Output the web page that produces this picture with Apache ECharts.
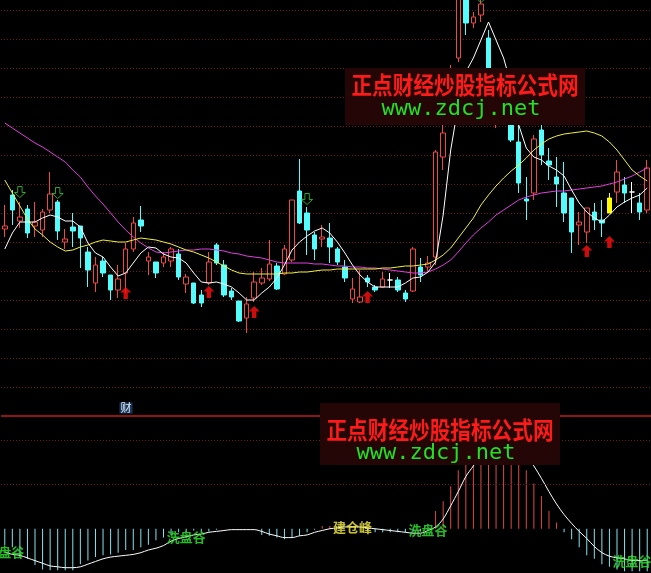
<!DOCTYPE html>
<html><head><meta charset="utf-8">
<script src="https://cdn.jsdelivr.net/npm/echarts@6/dist/echarts.min.js"></script>
<style>html,body{margin:0;padding:0;background:#000;}#c{width:651px;height:573px;}</style>
</head><body><div id="c"></div>
<script>
// ---- data (price units are arbitrary) ----
const categories = Array.from({length: 86}, (_, i) => 'D' + (i + 1));
const opens  = [187,221,195,207,190,186,206,214,174,189,190,164,133,155,141,126,143,167,196,155,154,153,155,162,132,133,121,133,171,151,125,115,98,118,133,137,150,142,156,225,203,181,177,178,167,149,117,114,138,129,129,136,136,123,125,149,149,159,259,294,358,426,393,401,378,306,331,301,274,217,223,286,255,239,223,218,191,184,204,196,203,224,231,224,213,206];
const closes = [190,206,199,183,194,204,222,185,177,185,178,146,151,143,126,137,167,193,190,159,143,159,167,139,139,113,113,154,153,121,119,95,112,134,138,152,127,167,216,193,186,167,179,169,154,138,127,119,134,126,137,136,126,117,167,141,153,264,283,346,431,393,399,412,326,331,301,276,233,215,277,261,251,232,203,184,194,208,196,193,218,244,223,224,204,248];
const lows   = [179,191,188,178,179,179,203,176,167,169,148,129,124,139,116,118,123,164,184,141,138,149,149,136,123,112,109,131,151,119,116,94,83,114,131,135,126,141,154,192,161,156,169,153,151,134,113,113,129,124,128,128,124,114,124,134,145,151,246,292,354,381,388,394,321,288,296,274,223,196,216,251,236,209,194,163,171,173,186,179,203,213,213,203,196,203];
const highs  = [211,226,214,211,214,207,244,216,187,203,190,169,159,159,141,151,173,199,210,164,154,164,169,167,142,133,126,164,173,156,128,115,119,144,148,176,153,171,216,257,209,184,191,193,169,156,138,146,141,131,144,143,139,126,169,158,160,266,293,351,436,431,404,418,386,336,341,306,291,239,281,291,268,259,254,218,204,208,213,216,223,256,239,234,223,256];
const whiteCandles = [51, 83];
const yellowCandles = [80];

const maWhite   = [167,183,194,194,194,198,201,199,195,195,189,173,163,159,149,140,143,153,163,169,168,162,159,158,153,143,134,133,134,132,129,123,116,116,123,129,138,151,166,174,180,185,188,183,174,163,151,141,134,129,129,129,129,133,138,139,144,154,201,266,311,344,358,376,394,376,358,331,291,268,259,256,250,246,240,226,213,204,198,194,201,209,214,218,221,228];
const maYellow  = [236,223,210,197,187,181,174,169,165,166,169,171,174,176,175,174,174,176,178,177,176,174,172,169,166,164,161,158,154,150,146,143,142,142,142,142,142,143,143,144,144,145,146,146,147,147,147,147,147,147,148,148,149,150,150,151,152,156,161,168,178,188,198,211,221,230,238,245,251,258,266,272,277,280,282,283,284,285,283,280,274,266,256,246,240,235];
const maMagenta = [293,288,283,278,273,269,264,259,254,246,239,229,220,212,203,194,186,179,173,168,164,163,164,165,166,166,167,167,166,165,163,162,160,159,158,156,154,153,153,153,153,152,152,151,150,150,149,149,148,148,147,146,145,144,143,143,144,147,151,156,164,173,181,188,194,201,206,211,216,219,221,223,224,225,225,226,227,228,229,230,232,234,237,240,244,248];

const buyIdx   = [16, 27, 33, 48, 77, 80];
const buyLevel = [123, 124, 104, 119, 165, 174];
const sellIdx   = [2, 7, 40, 63];
const sellLevel = [224, 223, 217, 419];

// lower indicator
const indBars = [-19,-21,-32,-34,-41,-46,-47,-47,-47,-47,-40,-36,-32,-30,-29,-27,-24,-24,-21,-18,-13,-10,-7,-4,-3,-2,-3,-3,-1,0,0,0,0,0,-7,-8,-10,-12,-10,-8,-4,-1,3,3,0,0,0,0,-2,-4,-4,-4,-4,-4,-4,-3,-1,20,31,48,66,82,95,105,112,115,112,105,95,66,51,37,20,7,-4,-12,-21,-30,-34,-40,-43,-46,-48,-48,-48,-48];
const indLine = [-26,-29,-30,-33,-36,-39,-42,-43,-44,-44,-43,-40,-37,-34,-32,-31,-30,-29,-27,-24,-22,-19,-14,-11,-9,-7,-6,-4,-3,-2,-1,-1,-1,-1,-3,-6,-8,-10,-10,-8,-7,-4,-2,0,1,2,2,2,1,0,-1,-2,-3,-4,-5,-5,-2,2,11,26,42,59,71,84,94,100,103,100,94,83,71,57,42,28,16,6,-3,-11,-20,-27,-31,-33,-34,-36,-36,-36];
const tagIdx  = [0, 24, 46, 56, 83];
const tagText = ['洗盘谷', '洗盘谷', '建仓峰', '洗盘谷', '洗盘谷'];

// ---- chart ----
const RED = '#f04848', CYAN = '#54fcfc';
const candleData = categories.map((_, i) => {
  const d = {value: [opens[i], closes[i], lows[i], highs[i]]};
  if (whiteCandles.includes(i)) d.itemStyle = {color: '#fff', color0: '#fff', borderColor: '#fff', borderColor0: '#fff', borderColorDoji: '#fff'};
  if (yellowCandles.includes(i)) d.itemStyle = {color: '#ffff00', color0: '#ffff00', borderColor: '#ffff00', borderColor0: '#ffff00'};
  return d;
});
const upArrow = 'path://M5,0 L10,5 L7,5 L7,11 L3,11 L3,5 L0,5 Z';
const downArrow = 'path://M3,0 L7,0 L7,6 L10,6 L5,11 L0,6 L3,6 Z';
const dotted = {color: '#701a1a', type: [1, 2], width: 1};

const chart = echarts.init(document.getElementById('c'), null, {renderer: 'canvas'});
chart.setOption({
  backgroundColor: '#000',
  animation: false,
  grid: [
    {left: 1, right: 0, top: 10, height: 377},
    {left: 1, right: 0, top: 396, height: 180}
  ],
  xAxis: [
    {type: 'category', data: categories, gridIndex: 0, show: false, boundaryGap: true},
    {type: 'category', data: categories, gridIndex: 1, show: false, boundaryGap: true}
  ],
  yAxis: [
    {type: 'value', gridIndex: 0, min: 29, max: 406, interval: 29, axisLine: {show: false}, axisTick: {show: false}, axisLabel: {show: false},
     splitLine: {show: true, lineStyle: dotted}},
    {type: 'value', gridIndex: 1, min: -50, max: 150, axisLine: {show: false}, axisTick: {show: false}, axisLabel: {show: false}, splitLine: {show: false}}
  ],
  series: [
    {type: 'candlestick', xAxisIndex: 0, yAxisIndex: 0, data: candleData, barWidth: 5, clip: false,
     itemStyle: {color: '#000', color0: CYAN, borderColor: RED, borderColor0: CYAN, borderColorDoji: RED, borderWidth: 1}},
    {type: 'line', data: maMagenta, symbol: 'none', lineStyle: {color: '#e040e0', width: 1}, z: 3},
    {type: 'line', data: maYellow, symbol: 'none', lineStyle: {color: '#f0f040', width: 1}, z: 3},
    {type: 'line', data: maWhite, symbol: 'none', lineStyle: {color: '#ffffff', width: 1}, z: 3},
    {type: 'scatter', clip: false, symbol: upArrow, symbolSize: [11, 12], z: 4,
     itemStyle: {color: '#ff1010'}, data: buyIdx.map((k, j) => [k, buyLevel[j]])},
    {type: 'scatter', clip: false, symbol: downArrow, symbolSize: [11, 11], z: 4,
     itemStyle: {color: 'rgba(0,0,0,0)', borderColor: '#30d030', borderWidth: 1}, data: sellIdx.map((k, j) => [k, sellLevel[j]])},
    {type: 'bar', xAxisIndex: 1, yAxisIndex: 1, data: indBars, barWidth: 1,
     itemStyle: {color: p => p.value >= 0 ? '#e04848' : '#80e4ec'},
     markLine: {symbol: 'none', silent: true, label: {show: false}, animation: false,
       data: [
         {yAxis: 50, lineStyle: dotted},
         {yAxis: 100, lineStyle: dotted},
         {yAxis: 127.8, lineStyle: {color: '#c01c1c', type: 'solid', width: 1.5}}
       ]}},
    {type: 'line', xAxisIndex: 1, yAxisIndex: 1, data: indLine, symbol: 'none', smooth: 0.3, lineStyle: {color: '#fff', width: 1}, z: 3},
    {type: 'scatter', xAxisIndex: 1, yAxisIndex: 1, symbolSize: 0, z: 5, clip: false,
     data: tagIdx.map((k, j) => ({value: [k, indLine[k]], name: tagText[j],
       label: {color: tagText[j] === '建仓峰' ? '#f8f040' : '#30e830'}})),
     label: {show: true, position: 'inside', formatter: p => p.name, fontFamily: 'Noto Sans CJK SC', fontSize: 13, fontWeight: 'bold'},
     labelLayout: {hideOverlap: false}}
  ],
  graphic: [
    {type: 'rect', z: 100, shape: {x: 345, y: 68, width: 240, height: 57}, style: {fill: '#240606'}},
    {type: 'text', z: 101, x: 465, y: 85, scaleX: 0.86, style: {text: '正点财经炒股指标公式网', fill: '#ff1a1a', font: 'bold 24px "Noto Sans CJK SC"', align: 'center', verticalAlign: 'middle'}},
    {type: 'text', z: 101, x: 461, y: 109, style: {text: 'www.zdcj.net', fill: '#22e022', font: '22px "DejaVu Sans Mono"', align: 'center', verticalAlign: 'middle'}},
    {type: 'rect', z: 100, shape: {x: 320, y: 403, width: 240, height: 62}, style: {fill: '#240606'}},
    {type: 'text', z: 101, x: 440, y: 430, scaleX: 0.86, style: {text: '正点财经炒股指标公式网', fill: '#ff1a1a', font: 'bold 24px "Noto Sans CJK SC"', align: 'center', verticalAlign: 'middle'}},
    {type: 'text', z: 101, x: 436, y: 453, style: {text: 'www.zdcj.net', fill: '#22e022', font: '22px "DejaVu Sans Mono"', align: 'center', verticalAlign: 'middle'}},
    {type: 'text', z: 101, x: 126, y: 408, style: {text: '财', fill: '#e0ecf8', font: '11px "Noto Sans CJK SC"', align: 'center', verticalAlign: 'middle', backgroundColor: '#18365a', padding: [0, 1]}}
  ]
});
</script></body></html>
